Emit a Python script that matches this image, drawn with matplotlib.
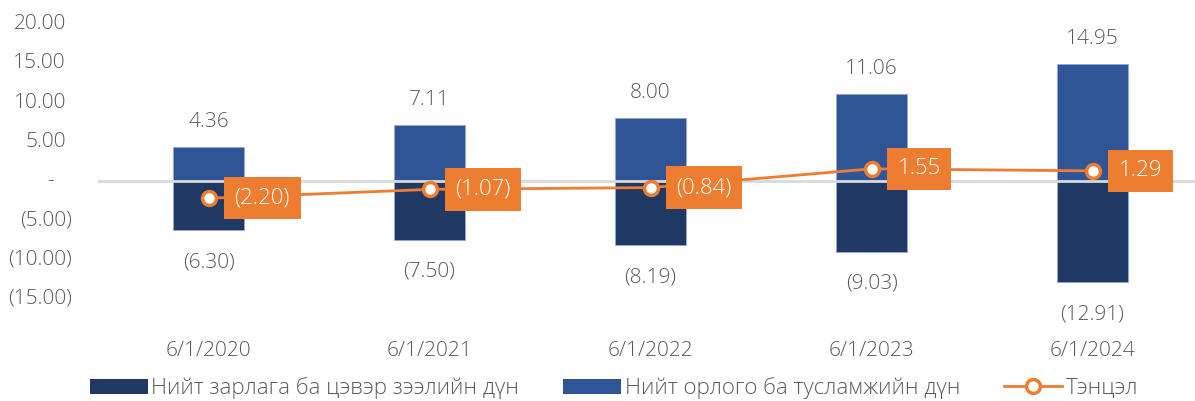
"""
Budget balance chart: revenue vs expenditure bars with balance line
"""
import matplotlib
matplotlib.use('Agg')
import matplotlib.pyplot as plt
from matplotlib.patches import Patch
from matplotlib.lines import Line2D

# Data
dates = ['6/1/2020', '6/1/2021', '6/1/2022', '6/1/2023', '6/1/2024']
revenue = [4.36, 7.11, 8.00, 11.06, 14.95]
expense = [-6.30, -7.50, -8.19, -9.03, -12.91]
balance = [-2.20, -1.07, -0.84, 1.55, 1.29]
y_ticks = [-15, -10, -5, 0, 5, 10, 15, 20]

legend_labels = ['Нийт зарлага ба цэвэр зээлийн дүн',
                 'Нийт орлого ба тусламжийн дүн',
                 'Тэнцэл']

NAVY = '#203864'
BLUE = '#2F5597'
ORANGE = '#ED7D31'
GREY_TXT = '#595959'

plt.rcParams['font.family'] = ['Open Sans', 'DejaVu Sans']
plt.rcParams['font.weight'] = 'light'
FS = 15


def fmt(v):
    if v == 0:
        return '-'
    if v < 0:
        return f'({abs(v):.2f})'
    return f'{v:.2f}'


W, H = 1195, 401
fig = plt.figure(figsize=(W / 100, H / 100), dpi=100)
# axes in pixel coordinates: x 98..1203, y 24..338
ax = fig.add_axes([98 / W, (H - 338) / H, (1203 - 98) / W, (338 - 24) / H])

x = list(range(len(dates)))
bw = 0.32
ax.bar(x, expense, width=bw, color=NAVY, edgecolor='#8EA9DB', linewidth=0.6, zorder=2)
ax.bar(x, revenue, width=bw, color=BLUE, edgecolor='#8EA9DB', linewidth=0.6, zorder=2)
ax.axhline(0, color='#D9D9D9', linewidth=2, zorder=3)

ax.plot(x, balance, color=ORANGE, linewidth=2, marker='o', markersize=10,
        markerfacecolor='white', markeredgecolor=ORANGE, markeredgewidth=2.5, zorder=5)

# bar labels
for xi, v in zip(x, revenue):
    ax.annotate(fmt(v), (xi, v), xytext=(0, 25), textcoords='offset pixels',
                ha='center', va='center', fontsize=FS, color=GREY_TXT)
for xi, v in zip(x, expense):
    ax.annotate(fmt(v), (xi, v), xytext=(0, -32), textcoords='offset pixels',
                ha='center', va='center', fontsize=FS, color=GREY_TXT)

# balance labels in orange boxes
for xi, v in zip(x, balance):
    ax.annotate(fmt(v), (xi, v), xytext=(26, 0), textcoords='offset pixels',
                ha='left', va='center', fontsize=16, color='white', zorder=6,
                bbox=dict(boxstyle='square,pad=0.48', facecolor=ORANGE, edgecolor='none'))

ax.set_xlim(-0.5, len(dates) - 0.5)
ax.set_ylim(-20, 20)
ax.set_xticks(x)
ax.set_xticklabels(dates, fontsize=FS, color=GREY_TXT)
ax.tick_params(axis='x', length=0, pad=2)
ax.set_yticks([])
for s in ax.spines.values():
    s.set_visible(False)

# y tick labels, excel accounting style
ytr = ax.get_yaxis_transform()
for t in y_ticks:
    if t == 0:
        ax.annotate('-', (0, t), xycoords=ytr, xytext=(-48, 0), textcoords='offset pixels',
                    ha='center', va='center', fontsize=FS, color=GREY_TXT)
    else:
        off = -26 if t < 0 else -32
        ax.annotate(fmt(t), (0, t), xycoords=ytr, xytext=(off, 0), textcoords='offset pixels',
                    ha='right', va='center', fontsize=FS, color=GREY_TXT)

handles = [
    Patch(facecolor=NAVY, edgecolor='none'),
    Patch(facecolor=BLUE, edgecolor='none'),
    Line2D([0], [0], color=ORANGE, linewidth=2, marker='o', markersize=10,
           markerfacecolor='white', markeredgecolor=ORANGE, markeredgewidth=2.5),
]
fig.legend(handles, legend_labels, loc='center', bbox_to_anchor=(614 / W, (H - 388) / H),
           ncol=3, frameon=False, fontsize=16, labelcolor=GREY_TXT,
           handlelength=2.6, handleheight=0.65, handletextpad=0.15, columnspacing=2.0)

fig.savefig('out.png', dpi=100)
